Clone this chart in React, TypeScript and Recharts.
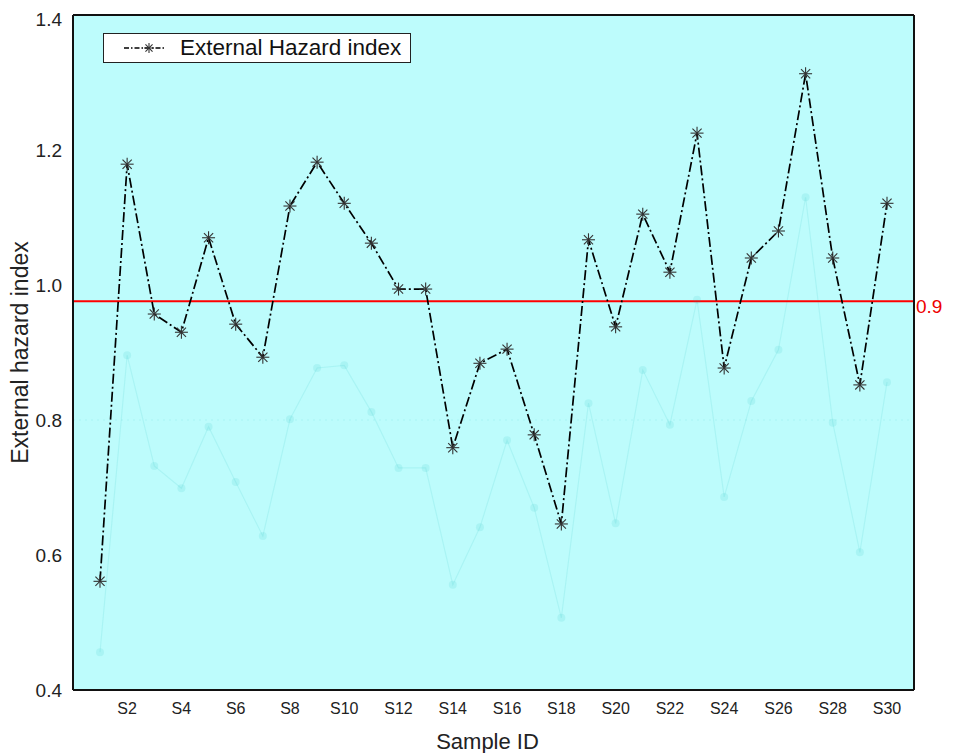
import React from 'react';
import { LineChart, Line, XAxis, YAxis, CartesianGrid, ReferenceLine } from 'recharts';

const samples = ['S1','S2','S3','S4','S5','S6','S7','S8','S9','S10','S11','S12','S13','S14','S15','S16','S17','S18','S19','S20','S21','S22','S23','S24','S25','S26','S27','S28','S29','S30'];
const hazard = [0.561,1.179,0.957,0.930,1.070,0.942,0.893,1.117,1.182,1.121,1.062,0.994,0.994,0.759,0.884,0.905,0.778,0.646,1.067,0.938,1.105,1.019,1.225,0.877,1.040,1.080,1.313,1.040,0.852,1.121];
const ghost = [0.456,0.896,0.732,0.699,0.790,0.708,0.628,0.801,0.877,0.881,0.812,0.729,0.729,0.556,0.641,0.770,0.670,0.507,0.825,0.647,0.874,0.793,0.978,0.686,0.828,0.904,1.130,0.796,0.604,0.856];
const xTicks = ['S2','S4','S6','S8','S10','S12','S14','S16','S18','S20','S22','S24','S26','S28','S30'];
const yTicks = [0.4, 0.6, 0.8, 1.0, 1.2, 1.4];
const limitValue = 0.976;
const limitLabel = '0.9';

const data = samples.map((s, i) => ({ name: s, hazard: hazard[i], ghost: ghost[i] }));

const FONT = '"Liberation Sans", Arial, sans-serif';
const BG = '#bdfcfc';
const GHOST = '#00b4b4';
const GHOST_OP = 0.1;

const Star = (cx: number, cy: number, r: number, color: string) => {
  const d = r * 0.707;
  return (
    <g stroke={color} strokeWidth={1.1} fill="none">
      <line x1={cx - r} y1={cy} x2={cx + r} y2={cy} />
      <line x1={cx} y1={cy - r} x2={cx} y2={cy + r} />
      <line x1={cx - d} y1={cy - d} x2={cx + d} y2={cy + d} />
      <line x1={cx - d} y1={cy + d} x2={cx + d} y2={cy - d} />
    </g>
  );
};

const StarDot = (props: any) => {
  const { cx, cy, index } = props;
  if (cx == null || cy == null) return <g key={index} />;
  return <g key={index}>{Star(cx, cy, 6.5, '#333')}</g>;
};

const GhostDot = (props: any) => {
  const { cx, cy, index } = props;
  if (cx == null || cy == null) return <g key={index} />;
  return <circle key={index} cx={cx} cy={cy} r={4} fill={GHOST} fillOpacity={GHOST_OP} stroke="none" />;
};

const LegendBox = () => (
  <div style={{ position: 'absolute', left: 95, top: 25, width: 306, height: 28, border: '1px solid #222', background: '#fff', display: 'flex', alignItems: 'center', boxSizing: 'content-box' }}>
    <svg width={76} height={28}>
      <line x1={20} y1={14} x2={62} y2={14} stroke="#000" strokeWidth={1.4} strokeDasharray="5 2 1.5 2" />
      {Star(45, 14, 5, '#333')}
    </svg>
    <span style={{ fontFamily: FONT, fontSize: 22.5, color: '#111', whiteSpace: 'nowrap' }}>External Hazard index</span>
  </div>
);

export default function App() {
  return (
    <div style={{ position: 'relative', width: 948, height: 745 }}>
      <LineChart width={948} height={745} data={data} margin={{ top: 7, right: 0, bottom: 0, left: 0 }}>
        <CartesianGrid horizontal={false} vertical={false} fill={BG} />
        <XAxis
          dataKey="name"
          ticks={xTicks}
          interval={0}
          height={63}
          padding={{ left: 27, right: 27 }}
          axisLine={{ stroke: '#111', strokeWidth: 2 }}
          tickLine={false}
          tickMargin={7}
          tick={{ fill: '#222', fontSize: 16, fontFamily: FONT }}
          label={{
            content: (p: any) => {
              const vb = p.viewBox;
              return (
                <text x={vb.x + vb.width / 2 - 6} y={741} textAnchor="middle" fontSize={22} fontFamily={FONT} fill="#222">Sample ID</text>
              );
            },
          }}
        />
        <YAxis
          yAxisId="left"
          domain={[0.4, 1.4]}
          ticks={yTicks}
          width={65}
          axisLine={{ stroke: '#111', strokeWidth: 2 }}
          tickLine={false}
          tickMargin={5}
          tickFormatter={(v: number) => v.toFixed(1)}
          tick={{ fill: '#222', fontSize: 19, fontFamily: FONT }}
          label={{
            content: (p: any) => {
              const vb = p.viewBox;
              const x = 12;
              const y = vb.y + vb.height / 2;
              return (
                <text x={x} y={y} transform={`rotate(-90, ${x}, ${y})`} textAnchor="middle" dominantBaseline="central" fontSize={23} fontFamily={FONT} fill="#222">External hazard index</text>
              );
            },
          }}
        />
        <YAxis
          yAxisId="right"
          orientation="right"
          domain={[0.4, 1.4]}
          ticks={yTicks}
          width={42}
          axisLine={{ stroke: '#111', strokeWidth: 2 }}
          tickLine={false}
          tickMargin={5}
          tickFormatter={(v: number) => v.toFixed(1)}
          tick={{ fill: '#222', fontSize: 19, fontFamily: FONT }}
        />
        <ReferenceLine yAxisId="left" y={1.4} stroke="#111" strokeWidth={2} />
        <ReferenceLine yAxisId="left" y={0.8} stroke={GHOST} strokeOpacity={GHOST_OP} strokeWidth={1} strokeDasharray="2 4" />
        <Line
          yAxisId="left"
          dataKey="ghost"
          stroke={GHOST}
          strokeOpacity={GHOST_OP}
          strokeWidth={1.2}
          dot={GhostDot}
          activeDot={false}
          legendType="none"
          isAnimationActive={false}
        />
        <ReferenceLine
          yAxisId="left"
          y={limitValue}
          stroke="#ff0000"
          strokeWidth={2}
          label={{ value: limitLabel, position: 'right', fill: '#ee0000', fontSize: 19, fontFamily: FONT, offset: 2, dy: 5 }}
        />
        <Line
          yAxisId="left"
          dataKey="hazard"
          name="External Hazard index"
          stroke="#000"
          strokeWidth={1.7}
          strokeDasharray="10 3 2 3"
          dot={StarDot}
          activeDot={false}
          isAnimationActive={false}
        />
      </LineChart>
      <LegendBox />
    </div>
  );
}
